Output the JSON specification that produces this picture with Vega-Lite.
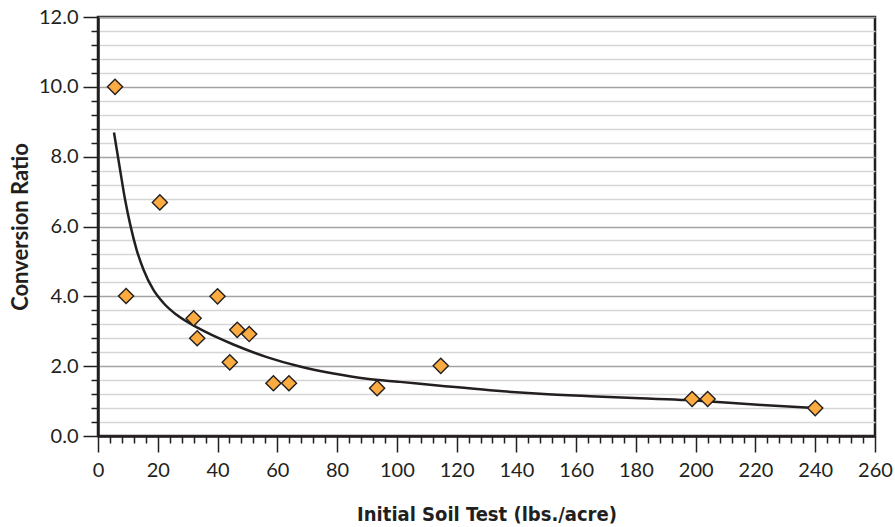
{
  "$schema": "https://vega.github.io/schema/vega-lite/v6.json",
  "autosize": "none",
  "width": 777,
  "height": 419,
  "padding": {"left": 98, "top": 17, "right": 20, "bottom": 91},
  "background": "white",
  "config": {
    "view": {"stroke": "#231f20", "strokeWidth": 2.5},
    "axis": {
      "domainColor": "#231f20",
      "domainWidth": 2.5,
      "tickColor": "#231f20",
      "tickWidth": 1.5,
      "labelColor": "#231f20",
      "titleColor": "#231f20"
    }
  },
  "datasets": {
    "points": [
      {"soil": 5.7, "ratio": 10.0},
      {"soil": 9.4, "ratio": 4.01},
      {"soil": 20.7, "ratio": 6.69},
      {"soil": 32.0, "ratio": 3.37},
      {"soil": 33.2, "ratio": 2.8},
      {"soil": 40.0, "ratio": 4.0},
      {"soil": 44.1, "ratio": 2.11},
      {"soil": 46.6, "ratio": 3.04},
      {"soil": 50.6, "ratio": 2.92},
      {"soil": 58.7, "ratio": 1.51},
      {"soil": 63.9, "ratio": 1.51},
      {"soil": 93.4, "ratio": 1.37},
      {"soil": 114.7, "ratio": 2.01},
      {"soil": 198.8, "ratio": 1.06},
      {"soil": 204.0, "ratio": 1.06},
      {"soil": 240.0, "ratio": 0.8}
    ],
    "trend": [
      {"soil": 5.35, "ratio": 8.69},
      {"soil": 7.36, "ratio": 7.64},
      {"soil": 9.04, "ratio": 6.78},
      {"soil": 10.9, "ratio": 6.01},
      {"soil": 12.9, "ratio": 5.34},
      {"soil": 15.2, "ratio": 4.77},
      {"soil": 18.5, "ratio": 4.19},
      {"soil": 21.9, "ratio": 3.81},
      {"soil": 26.3, "ratio": 3.47},
      {"soil": 33.6, "ratio": 3.09},
      {"soil": 39.7, "ratio": 2.83},
      {"soil": 45.3, "ratio": 2.62},
      {"soil": 56.5, "ratio": 2.26},
      {"soil": 67.6, "ratio": 1.99},
      {"soil": 78.8, "ratio": 1.79},
      {"soil": 89.9, "ratio": 1.64},
      {"soil": 101.0, "ratio": 1.55},
      {"soil": 114.5, "ratio": 1.44},
      {"soil": 131.2, "ratio": 1.31},
      {"soil": 147.9, "ratio": 1.21},
      {"soil": 164.7, "ratio": 1.14},
      {"soil": 181.4, "ratio": 1.08},
      {"soil": 197.0, "ratio": 1.03},
      {"soil": 206.0, "ratio": 0.98},
      {"soil": 222.0, "ratio": 0.89},
      {"soil": 240.0, "ratio": 0.8}
    ]
  },
  "encoding": {
    "x": {
      "field": "soil",
      "type": "quantitative",
      "scale": {"domain": [0, 260], "nice": false, "zero": false},
      "axis": {
        "title": "Initial Soil Test (lbs./acre)",
        "titleFont": "Liberation Sans Narrow, DejaVu Sans Condensed",
        "titleFontSize": 20,
        "titleFontWeight": "bold",
        "titlePadding": 24,
        "values": [0,4,8,12,16,20,24,28,32,36,40,44,48,52,56,60,64,68,72,76,80,84,88,92,96,100,104,108,112,116,120,124,128,132,136,140,144,148,152,156,160,164,168,172,176,180,184,188,192,196,200,204,208,212,216,220,224,228,232,236,240,244,248,252,256,260],
        "labelExpr": "datum.value % 20 === 0 ? format(datum.value, 'd') : ''",
        "labelFont": "Lato",
        "labelFontSize": 20,
        "labelPadding": 8,
        "labelFlush": false,
        "labelOverlap": false,
        "tickSize": {"condition": {"test": "datum.value % 20 === 0", "value": 16}, "value": 7},
        "grid": false
      }
    },
    "y": {
      "field": "ratio",
      "type": "quantitative",
      "scale": {"domain": [0, 12], "nice": false},
      "axis": {
        "title": "Conversion Ratio",
        "titleFont": "Lato",
        "titleFontSize": 22,
        "titleFontWeight": "bold",
        "titlePadding": 6,
        "values": [0,0.4,0.8,1.2,1.6,2,2.4,2.8,3.2,3.6,4,4.4,4.8,5.2,5.6,6,6.4,6.8,7.2,7.6,8,8.4,8.8,9.2,9.6,10,10.4,10.8,11.2,11.6,12],
        "labelExpr": "datum.value % 2 === 0 ? format(datum.value, '.1f') : ''",
        "labelFont": "Lato",
        "labelFontSize": 20,
        "labelPadding": 5,
        "labelOverlap": false,
        "labelFlush": false,
        "tickSize": {"condition": {"test": "datum.value % 2 === 0", "value": 15}, "value": 7},
        "grid": true,
        "gridColor": {"condition": {"test": "datum.value % 2 === 0", "value": "#a3a3a3"}, "value": "#d6d6d6"},
        "gridWidth": 1.5
      }
    }
  },
  "layer": [
    {
      "data": {"name": "trend"},
      "mark": {"type": "line", "color": "#231f20", "strokeWidth": 2.5, "interpolate": "monotone"}
    },
    {
      "data": {"name": "points"},
      "mark": {"type": "point", "shape": "diamond", "size": 230, "filled": true, "fill": "#fbab3f", "stroke": "#231f20", "strokeWidth": 1.4, "opacity": 1}
    }
  ]
}
